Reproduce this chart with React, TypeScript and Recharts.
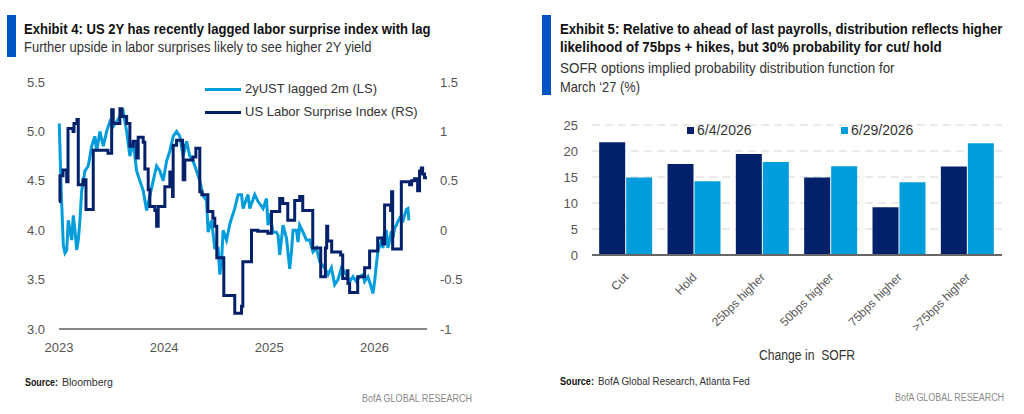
import React from "react";
import { LineChart, Line, XAxis, YAxis, BarChart, Bar, CartesianGrid } from "recharts";

const SANS = '"Liberation Sans", Arial, sans-serif';
const NAVY = "#03216b";
const SKY = "#009ddc";
const TITLE_BLUE = "#0053c2";

// months since Jan 2023
const yearTicks = [0, 12, 24, 36];
const yearLabels = ["2023", "2024", "2025", "2026"];

const ust2yMonths = [
  0.03, 0.23, 0.49, 0.68, 0.88, 1.06, 1.25, 1.45, 1.63, 1.82,
  2.02, 2.2, 2.39, 2.59, 2.96, 3.34, 3.73, 4.1, 4.3, 4.67,
  5.05, 5.44, 5.81, 6.19, 6.58, 6.95, 7.33, 7.72, 8.09, 8.47,
  8.86, 9.23, 9.61, 10.0, 10.37, 10.75, 11.14, 11.51, 11.89, 12.28,
  12.65, 13.03, 13.42, 13.79, 14.17, 14.56, 14.93, 15.31, 15.7, 16.07,
  16.45, 16.84, 17.02, 17.41, 17.78, 18.16, 18.35, 18.55, 18.73, 19.12,
  19.49, 19.69, 20.06, 20.44, 20.83, 21.01, 21.4, 21.58, 21.77, 22.34,
  22.72, 23.29, 23.68, 23.86, 24.05, 24.43, 24.82, 25.0, 25.19, 25.57,
  25.96, 26.33, 26.53, 26.71, 27.1, 27.28, 27.47, 27.85, 28.24, 28.61,
  28.99, 29.38, 29.75, 30.32, 30.7, 31.09, 31.46, 31.84, 32.23, 32.41,
  32.8, 33.17, 33.55, 33.94, 34.31, 34.69, 34.88, 35.26, 35.65, 35.83,
  36.02, 36.22, 36.4, 36.79, 36.97, 37.16, 37.36, 37.54, 37.73, 37.93,
  38.11, 38.3, 38.5, 38.68, 38.87, 39.07, 39.25, 39.44, 39.64, 39.82,
  39.93,
];
const ust2yValues = [
  5.08, 4.45, 3.85, 3.77, 3.8, 4.1, 4.0, 3.9, 4.15, 4.0,
  3.8, 3.9, 4.1, 4.4, 4.6, 4.65, 4.85, 4.95, 4.8, 5.0,
  4.85, 5.0, 5.1, 5.05, 5.1, 5.15, 5.2, 5.0, 4.75, 4.9,
  4.6, 4.5, 4.4, 4.2, 4.35, 4.5, 4.65, 4.6, 4.5, 4.7,
  4.8, 4.95, 5.0, 4.95, 4.75, 4.9, 4.75, 4.7, 4.6, 4.5,
  4.35, 4.3, 3.98, 4.1, 3.82, 3.82, 3.55, 3.68, 4.0, 3.9,
  4.06, 4.12, 4.22, 4.36, 4.36, 4.22, 4.32, 4.36, 4.22, 4.36,
  4.29, 4.22, 4.32, 4.05, 4.17, 3.98, 3.98, 3.95, 3.75, 4.05,
  3.92, 3.61, 3.78, 4.0, 4.0, 3.88, 4.05, 3.98, 3.9, 3.9,
  3.78, 3.82, 3.68, 3.62, 3.55, 3.62, 3.45, 3.5, 3.62, 3.6,
  3.55, 3.48, 3.53, 3.48, 3.53, 3.55, 3.48, 3.53, 3.42, 3.36,
  3.48, 3.65, 3.79, 3.89, 3.82, 3.99, 3.99, 3.82, 3.89, 3.99,
  3.92, 4.02, 4.05, 4.09, 4.12, 4.09, 4.09, 4.15, 4.21, 4.22,
  4.1,
];

const laborMonths = [
  0, 0.11, 0.46, 0.88, 1.03, 1.6, 1.71, 2.05, 2.2, 2.74,
  3.08, 3.91, 5.59, 6.01, 6.19, 6.95, 7.18, 7.72, 8.09, 8.47,
  8.86, 9.04, 9.61, 9.8, 10.18, 10.37, 10.94, 11.14, 11.32, 12.08,
  12.65, 12.96, 13.03, 13.42, 14.1, 14.17, 14.36, 15.28, 15.62, 16.07,
  16.3, 16.99, 17.56, 17.78, 18.01, 18.81, 20.06, 20.83, 20.98, 21.97,
  22.69, 23.83, 24.25, 25.19, 25.54, 26.11, 26.9, 27.47, 27.82, 28.96,
  29.87, 30.4, 30.55, 30.67, 31.12, 32.15, 32.38, 32.91, 32.98, 33.17,
  34.09, 34.88, 35.45, 36.37, 36.94, 37.16, 37.85, 37.96, 38.08, 39.07,
  40.01, 40.24, 40.58, 40.93, 41.15, 41.35, 41.5, 41.72, 42,
];
const laborValues = [
  0.29, 0.55, 0.61, 0.49, 1.03, 1.0, 1.08, 1.12, 0.46, 0.51,
  0.21, 0.81, 0.78, 1.22, 1.08, 1.23, 1.15, 1.08, 0.85, 0.9,
  0.73, 0.94, 0.89, 0.62, 0.41, 0.24, 0.2, 0.04, 0.24, 0.44,
  0.59, 0.34, 0.86, 0.91, 0.86, 0.51, 0.71, 0.74, 0.83, 0.39,
  0.36, 0.19, 0.12, 0.04, -0.28, -0.66, -0.84, -0.77, -0.32, 0.0,
  -0.01, -0.03, 0.19, 0.32, 0.27, 0.1, 0.3, 0.34, 0.2, -0.18,
  -0.47, -0.18, 0.04, -0.11, -0.22, -0.25, -0.49, -0.41, -0.54, -0.63,
  -0.47, -0.38, -0.21, -0.08, -0.14, 0.255, 0.2, 0.39, -0.19, 0.49,
  0.46, 0.5, 0.52, 0.4, 0.6, 0.63, 0.57, 0.53, 0.53,
];

const sofrCategories = ["Cut", "Hold", "25bps higher", "50bps higher", "75bps higher", ">75bps higher"];
const june4 = [21.7, 17.5, 19.4, 14.9, 9.2, 17.0];
const june29 = [14.9, 14.2, 17.9, 17.05, 14.0, 21.5];

const ustData = ust2yMonths.map((m, i) => ({ m, v: ust2yValues[i] }));
const laborData = laborMonths.map((m, i) => ({ m, v: laborValues[i] }));
const barData = sofrCategories.map((c, i) => ({ cat: c, a: june4[i], b: june29[i] }));

const tickStyle = { fill: "#555", fontSize: 13, fontFamily: SANS };

function RotTick(props: any) {
  const { x, y, payload } = props;
  const ax = x + 3;
  const ay = y + 21;
  return (
    <text x={ax} y={ay} transform={`rotate(-45 ${ax} ${ay})`} textAnchor="end" fill="#555" fontSize={12} fontFamily={SANS}>
      {payload.value}
    </text>
  );
}

// the original uses a condensed face; measure with canvas and squeeze horizontally
const measureCtx = typeof document !== "undefined" ? document.createElement("canvas").getContext("2d") : null;
function textWidth(s: string, size: number, bold?: boolean) {
  if (!measureCtx) return s.length * size * 0.5;
  measureCtx.font = `${bold ? "700 " : ""}${size}px "Liberation Sans", Arial, sans-serif`;
  return measureCtx.measureText(s).width;
}

function Fit(p: { x: number; y: number; w: number; size: number; bold?: boolean; color?: string; children: string }) {
  const sx = p.w / textWidth(p.children, p.size, p.bold);
  return (
    <g transform={`translate(${p.x} ${p.y}) scale(${sx} 1)`}>
      <text x={0} y={0} fontSize={p.size} fontWeight={p.bold ? 700 : 400} fill={p.color ?? "#333"} fontFamily={SANS} style={{ whiteSpace: "pre" }}>
        {p.children}
      </text>
    </g>
  );
}

const abs = (s: React.CSSProperties): React.CSSProperties => ({ position: "absolute", whiteSpace: "nowrap", ...s });

export default function App() {
  return (
    <div style={{ position: "fixed", left: 0, top: 0, width: 1024, height: 414, background: "#fff", overflow: "hidden", fontFamily: SANS }}>
      {/* left chart */}
      <div style={abs({ left: 0, top: 0 })}>
        <LineChart width={480} height={414} margin={{ top: 82, right: 0, bottom: 55, left: 0 }}>
          <XAxis
            type="number"
            dataKey="m"
            domain={[0, 42]}
            ticks={yearTicks}
            tickFormatter={(v: number) => yearLabels[yearTicks.indexOf(v)] ?? ""}
            axisLine={{ stroke: "#888", strokeWidth: 2 }}
            tickLine={false}
            tickSize={0}
            tickMargin={14}
            height={30}
            tick={tickStyle}
          />
          <YAxis
            yAxisId="left"
            domain={[3, 5.5]}
            ticks={[3, 3.5, 4, 4.5, 5, 5.5]}
            tickFormatter={(v: number) => v.toFixed(1)}
            width={59}
            axisLine={false}
            tickLine={false}
            tickSize={0}
            tickMargin={14}
            tick={tickStyle}
          />
          <YAxis
            yAxisId="right"
            orientation="right"
            domain={[-1, 1.5]}
            ticks={[-1, -0.5, 0, 0.5, 1, 1.5]}
            width={53}
            axisLine={false}
            tickLine={false}
            tickSize={0}
            tickMargin={13}
            tick={tickStyle}
          />
          <Line yAxisId="left" data={ustData} dataKey="v" type="linear" stroke={SKY} strokeWidth={3} dot={false} isAnimationActive={false} />
          <Line yAxisId="right" data={laborData} dataKey="v" type="stepAfter" stroke={NAVY} strokeWidth={3} dot={false} isAnimationActive={false} />
        </LineChart>
      </div>

      {/* left legend */}
      <div style={abs({ left: 205, top: 88, width: 36, height: 3, background: SKY })} />
      <div style={abs({ left: 245, top: 81, fontSize: 13, lineHeight: "16px", color: "#333" })}>2yUST lagged 2m (LS)</div>
      <div style={abs({ left: 205, top: 111, width: 36, height: 3, background: NAVY })} />
      <div style={abs({ left: 245, top: 104, fontSize: 13, lineHeight: "16px", color: "#333" })}>US Labor Surprise Index (RS)</div>

      {/* right chart */}
      <div style={abs({ left: 512, top: 0 })}>
        <BarChart width={512} height={414} data={barData} margin={{ top: 125, right: 22, bottom: 129, left: 0 }} barCategoryGap="10.5%" barGap={1}>
          <CartesianGrid vertical={false} stroke="#e3e3e3" strokeDasharray="8 5" strokeWidth={1.5} />
          <XAxis dataKey="cat" height={30} interval={0} tick={<RotTick />} tickLine={false} tickSize={0} axisLine={{ stroke: "#666", strokeWidth: 2 }} />
          <YAxis
            domain={[0, 25]}
            ticks={[0, 5, 10, 15, 20, 25]}
            width={80}
            axisLine={false}
            tickLine={false}
            tickSize={0}
            tickMargin={14}
            tick={tickStyle}
          />
          <Bar dataKey="a" fill={NAVY} isAnimationActive={false} />
          <Bar dataKey="b" fill={SKY} isAnimationActive={false} />
        </BarChart>
      </div>

      {/* right legend */}
      <div style={abs({ left: 687, top: 127, width: 7, height: 7, background: NAVY })} />
      <div style={abs({ left: 697, top: 122, fontSize: 14, lineHeight: "17px", color: "#333" })}>6/4/2026</div>
      <div style={abs({ left: 841, top: 127, width: 7, height: 7, background: SKY })} />
      <div style={abs({ left: 851, top: 122, fontSize: 14, lineHeight: "17px", color: "#333" })}>6/29/2026</div>

      {/* headers, axis title, footers */}
      <svg width={1024} height={414} style={abs({ left: 0, top: 0, pointerEvents: "none" })}>
        <rect x={7} y={15} width={9} height={42} fill={TITLE_BLUE} />
        <Fit x={24} y={33.5} w={407} size={15} bold color="#111">Exhibit 4: US 2Y has recently lagged labor surprise index with lag</Fit>
        <Fit x={24} y={51.5} w={348} size={14.5}>Further upside in labor surprises likely to see higher 2Y yield</Fit>

        <rect x={542} y={15} width={9} height={80} fill={TITLE_BLUE} />
        <Fit x={560} y={34.3} w={443} size={15} bold color="#111">Exhibit 5: Relative to ahead of last payrolls, distribution reflects higher</Fit>
        <Fit x={560} y={51.7} w={382} size={15} bold color="#111">likelihood of 75bps + hikes, but 30% probability for cut/ hold</Fit>
        <Fit x={560} y={73.3} w={335} size={14.5}>SOFR options implied probability distribution function for</Fit>
        <Fit x={560} y={91.7} w={80} size={14.5}>March ‘27 (%)</Fit>

        <Fit x={759} y={360} w={96} size={14.5}>{"Change in\u00a0 SOFR"}</Fit>

        <Fit x={25} y={385.5} w={33} size={11.5} bold color="#111">Source:</Fit>
        <Fit x={62} y={385.5} w={51} size={11.5} color="#333">Bloomberg</Fit>
        <Fit x={362} y={401.5} w={111} size={11.5} color="#8a8a8a">BofA GLOBAL RESEARCH</Fit>

        <Fit x={560} y={384.5} w={34} size={11.5} bold color="#111">Source:</Fit>
        <Fit x={598} y={384.5} w={153} size={11.5} color="#333">BofA Global Research, Atlanta Fed</Fit>
        <Fit x={895} y={401} w={110} size={11.5} color="#8a8a8a">BofA GLOBAL RESEARCH</Fit>
      </svg>
    </div>
  );
}
